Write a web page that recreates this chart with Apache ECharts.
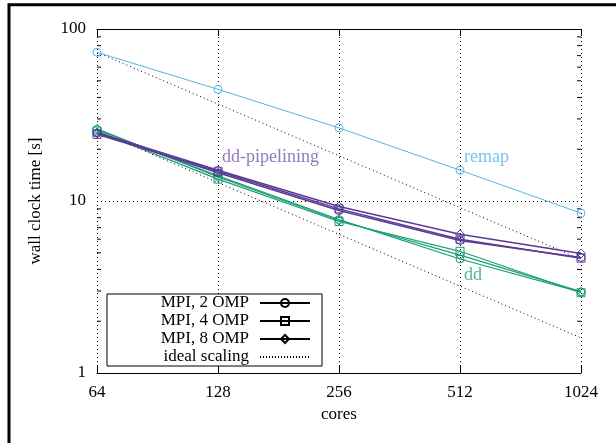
<!DOCTYPE html>
<html>
<head>
<meta charset="utf-8">
<script src="https://cdn.jsdelivr.net/npm/echarts@6/dist/echarts.min.js"></script>
<style>
  html, body { margin: 0; padding: 0; background: #fff; }
  #chart { width: 616px; height: 443px; }
</style>
</head>
<body>
<div id="chart"></div>
<script>
// Strong scaling of the three stages: wall clock time vs. core count
const cores = ['64', '128', '256', '512', '1024'];
const yTicks = [1, 10, 100];
const minorTicks = [2, 3, 4, 5, 6, 7, 8, 9, 20, 30, 40, 50, 60, 70, 80, 90];

const remap = [73.2, 44.6, 26.6, 15.1, 8.5];

const dd2 = [26.0, 14.0, 7.8, 4.6, 2.95];
const dd4 = [25.5, 13.4, 7.6, 5.1, 2.93];
const dd8 = [26.3, 13.8, 7.7, 4.85, 2.97];

const pipe2 = [24.8, 14.6, 8.8, 5.9, 4.7];
const pipe4 = [24.4, 14.9, 9.0, 6.0, 4.65];
const pipe8 = [25.0, 15.1, 9.3, 6.4, 4.95];

// ideal scaling references (time halves per doubling of cores)
const idealRemap = [73.2, 36.6, 18.3, 9.15, 4.58];
const idealDD = [25.6, 12.8, 6.4, 3.2, 1.6];

// stage name labels: [category index, value, text, colour]
const stageLabels = [
  [1, 18.0, 'dd-pipelining', '#7556b0'],
  [3, 17.9, 'remap', '#56b4e9'],
  [3, 3.71, 'dd', '#1fa27a']
];

const legendNames = ['MPI, 2 OMP', 'MPI, 4 OMP', 'MPI, 8 OMP', 'ideal scaling'];

const C_REMAP = '#56b4e9';
const C_DD = '#1b9e77';
const C_PIPE = '#5a3a96';
const FONT = 'Liberation Serif';

function run(data, color, symbol, width) {
  return {
    type: 'line',
    data: data,
    symbol: symbol,
    symbolSize: symbol === 'diamond' ? 9 : 8,
    showSymbol: true,
    lineStyle: { color: color, width: width },
    itemStyle: { color: 'transparent', borderColor: color, borderWidth: 1 },
    emphasis: { disabled: true },
    silent: true,
    z: 3
  };
}

function legendEntry(name, symbol, dotted) {
  return {
    type: 'line',
    name: name,
    data: [],
    symbol: symbol,
    symbolSize: dotted ? 0 : 8,
    lineStyle: { color: '#000', width: 1, type: dotted ? [1, 2] : 'solid' },
    itemStyle: {
      color: 'transparent',
      borderColor: dotted ? 'transparent' : '#000',
      borderWidth: dotted ? 0 : 1
    }
  };
}

const chart = echarts.init(document.getElementById('chart'), null, { renderer: 'canvas' });

const axisCommon = {
  axisLine: { lineStyle: { color: '#000', width: 1 } },
  axisTick: { inside: true, length: 7, lineStyle: { color: '#000' } }
};

chart.setOption({
  animation: false,
  backgroundColor: '#fff',
  textStyle: { fontFamily: FONT },
  grid: { left: 97, right: 35, top: 29, bottom: 70, containLabel: false },
  graphic: [{
    type: 'rect',
    shape: { x: 9, y: 4.7, width: 1000, height: 1000 },
    style: { fill: null, stroke: '#000', lineWidth: 3 },
    silent: true,
    z: 100
  }],
  legend: {
    orient: 'vertical',
    left: 107,
    top: 294,
    align: 'right',
    padding: [0, 11, 0, 4],
    itemGap: 0,
    itemWidth: 50,
    itemHeight: 10,
    borderColor: '#000',
    borderWidth: 1,
    borderRadius: 0,
    backgroundColor: '#fff',
    selectedMode: false,
    data: legendNames,
    textStyle: {
      fontFamily: FONT, fontSize: 17, color: '#000',
      width: 138, align: 'right', lineHeight: 18, padding: [0, 6, 0, 0]
    }
  },
  xAxis: [{
    type: 'category',
    data: cores,
    boundaryGap: false,
    position: 'bottom',
    ...axisCommon,
    axisLabel: { color: '#000', fontSize: 17, fontFamily: FONT, margin: 11 },
    splitLine: { show: true, lineStyle: { color: '#000', type: [1, 3], width: 1 } },
    name: 'cores',
    nameLocation: 'middle',
    nameGap: 33,
    nameTextStyle: { color: '#000', fontSize: 17, fontFamily: FONT }
  }, {
    type: 'category',
    data: cores,
    boundaryGap: false,
    position: 'top',
    ...axisCommon,
    axisLabel: { show: false },
    splitLine: { show: false }
  }],
  yAxis: [{
    type: 'log',
    logBase: 10,
    min: yTicks[0],
    max: yTicks[yTicks.length - 1],
    interval: 1,
    position: 'left',
    ...axisCommon,
    axisLabel: { color: '#000', fontSize: 17, fontFamily: FONT, margin: 11 },
    splitLine: { show: true, lineStyle: { color: '#000', type: [1, 3], width: 1 } },
    name: 'wall clock time [s]',
    nameLocation: 'middle',
    nameGap: 53,
    nameRotate: 90,
    nameTextStyle: { color: '#000', fontSize: 17, fontFamily: FONT }
  }, {
    type: 'log',
    logBase: 10,
    min: yTicks[0],
    max: yTicks[yTicks.length - 1],
    interval: 1,
    position: 'right',
    ...axisCommon,
    axisLabel: { show: false },
    splitLine: { show: false }
  }],
  series: [
    // minor log ticks on both vertical borders
    {
      type: 'custom',
      silent: true,
      clip: false,
      data: minorTicks.map(v => [0, v]),
      renderItem: function (params, api) {
        const v = api.value(1);
        const l = api.coord([0, v]);
        const r = api.coord([cores.length - 1, v]);
        const st = { stroke: '#000', lineWidth: 1 };
        return {
          type: 'group',
          children: [
            { type: 'line', shape: { x1: l[0], y1: l[1], x2: l[0] + 4, y2: l[1] }, style: st },
            { type: 'line', shape: { x1: r[0], y1: r[1], x2: r[0] - 4, y2: r[1] }, style: st }
          ]
        };
      },
      z: 2
    },
    // ideal scaling references
    {
      type: 'line', data: idealRemap, symbol: 'none', silent: true,
      lineStyle: { color: '#000', width: 1, type: [1, 3] }, z: 2
    },
    {
      type: 'line', data: idealDD, symbol: 'none', silent: true,
      lineStyle: { color: '#000', width: 1, type: [1, 3] }, z: 2
    },
    run(remap, C_REMAP, 'circle', 1),
    run(dd2, C_DD, 'circle', 1.2),
    run(dd4, C_DD, 'rect', 1.2),
    run(dd8, C_DD, 'diamond', 1.2),
    run(pipe2, C_PIPE, 'circle', 1.5),
    run(pipe4, C_PIPE, 'rect', 1.5),
    run(pipe8, C_PIPE, 'diamond', 1.5),
    // stage names
    {
      type: 'scatter',
      silent: true,
      symbolSize: 0,
      data: stageLabels.map(s => ({
        value: [s[0], s[1]],
        label: {
          show: true, position: 'right', distance: 4,
          formatter: s[2], color: s[3], fontSize: 18, fontFamily: FONT
        }
      })),
      z: 4
    },
    legendEntry(legendNames[0], 'circle', false),
    legendEntry(legendNames[1], 'rect', false),
    legendEntry(legendNames[2], 'diamond', false),
    legendEntry(legendNames[3], 'none', true)
  ]
});
</script>
</body>
</html>
